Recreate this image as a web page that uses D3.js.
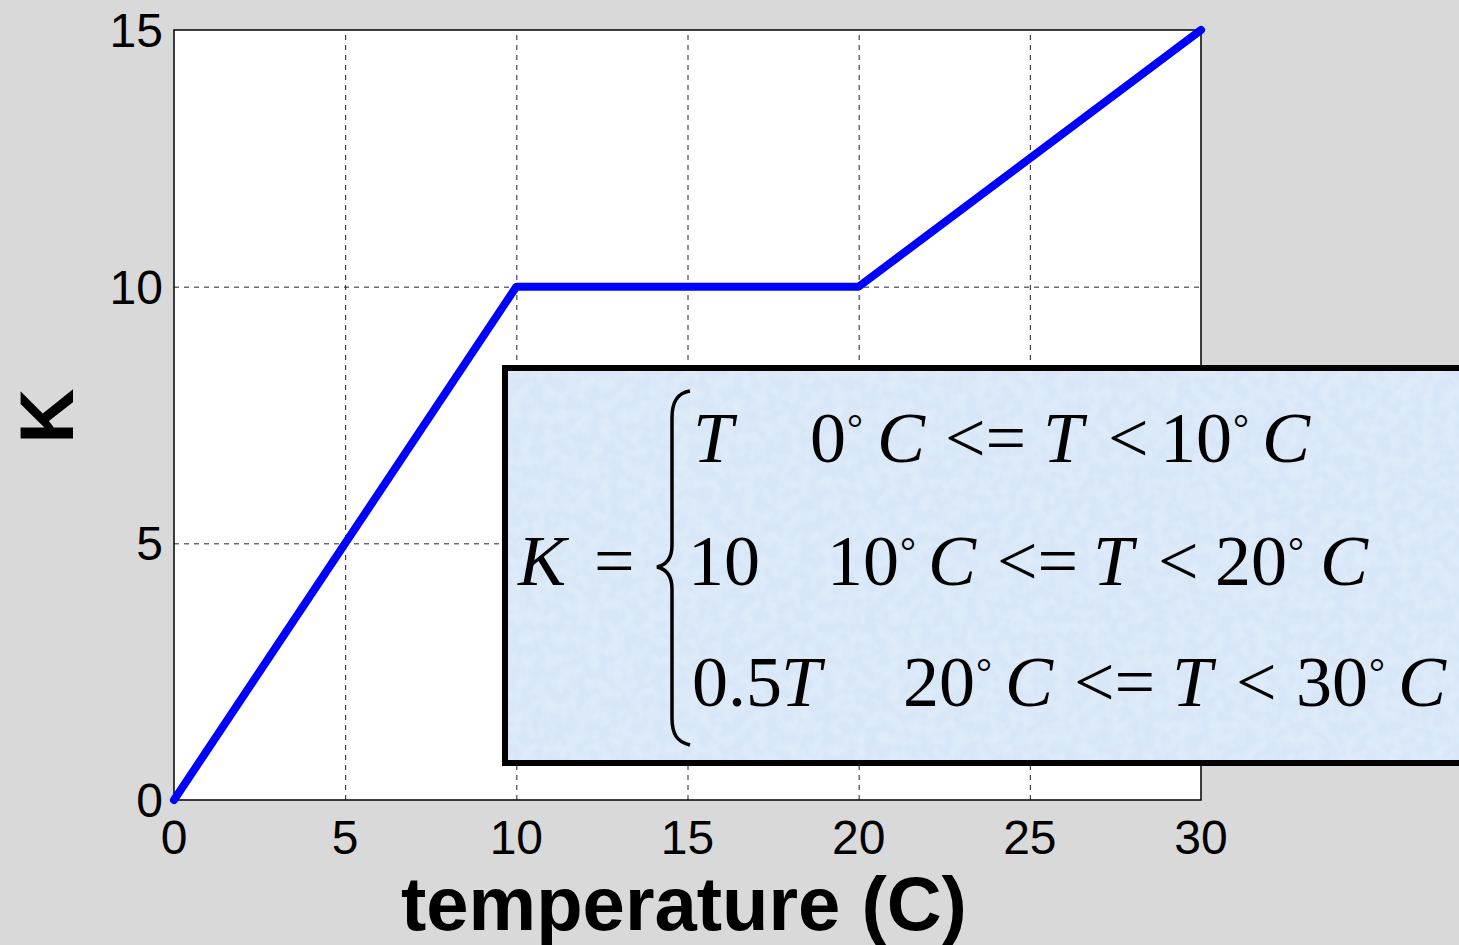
<!DOCTYPE html>
<html>
<head>
<meta charset="utf-8">
<script src="https://cdn.jsdelivr.net/npm/d3@7"></script>
<style>
  body { margin: 0; background: #d9d9d9; }
  svg { display: block; }
</style>
</head>
<body>
<div id="chart"></div>
<script>
// data
const temps = [0, 10, 20, 30];
const kVals = [0, 10, 10, 15];
const xTicks = [0, 5, 10, 15, 20, 25, 30];
const yTicks = [0, 5, 10, 15];

// formula rows: [text, x, italic]
const row1 = [["T", 693, 1], ["0", 810, 0], ["°", 847, 0], ["C", 877, 1], ["<=", 945, 0], ["T", 1043, 1], ["<", 1108, 0], ["10", 1160, 0], ["°", 1233, 0], ["C", 1262, 1]];
const row2 = [["10", 688, 0], ["10", 827, 0], ["°", 900, 0], ["C", 928, 1], ["<=", 997, 0], ["T", 1093, 1], ["<", 1158, 0], ["20", 1215, 0], ["°", 1288, 0], ["C", 1320, 1]];
const row3 = [["0.5", 692, 0], ["T", 781, 1], ["20", 903, 0], ["°", 976, 0], ["C", 1005, 1], ["<=", 1074, 0], ["T", 1172, 1], ["<", 1236, 0], ["30", 1296, 0], ["°", 1369, 0], ["C", 1398, 1]];

const width = 1459, height = 945;
const svg = d3.select("#chart").append("svg")
    .attr("width", width)
    .attr("height", height);

svg.append("rect").attr("width", width).attr("height", height).attr("fill", "#d9d9d9");

const x = d3.scaleLinear().domain([0, 30]).range([174, 1201]);
const y = d3.scaleLinear().domain([0, 15]).range([800, 30]);

// plot area
svg.append("rect")
    .attr("x", x(0)).attr("y", y(15))
    .attr("width", x(30) - x(0)).attr("height", y(0) - y(15))
    .attr("fill", "#fff");

// grid
const grid = svg.append("g").attr("stroke", "#222").attr("stroke-width", 1).attr("stroke-dasharray", "5,5");
grid.selectAll(".gx").data(xTicks.slice(1, -1)).enter().append("line")
    .attr("x1", d => x(d) + 0.5).attr("x2", d => x(d) + 0.5)
    .attr("y1", y(0)).attr("y2", y(15));
grid.selectAll(".gy").data(yTicks.slice(1, -1)).enter().append("line")
    .attr("y1", d => y(d) + 0.5).attr("y2", d => y(d) + 0.5)
    .attr("x1", x(0)).attr("x2", x(30));

// box
svg.append("rect")
    .attr("x", x(0)).attr("y", y(15))
    .attr("width", x(30) - x(0)).attr("height", y(0) - y(15))
    .attr("fill", "none").attr("stroke", "#000").attr("stroke-width", 1.5);

// tick labels
svg.selectAll(".xt").data(xTicks).enter().append("text")
    .attr("x", d => x(d)).attr("y", 854)
    .attr("text-anchor", "middle")
    .attr("font-family", "Liberation Sans, Arial, sans-serif")
    .attr("font-size", 48)
    .text(d => d);
svg.selectAll(".yt").data(yTicks).enter().append("text")
    .attr("x", 163).attr("y", d => y(d) + 17)
    .attr("text-anchor", "end")
    .attr("font-family", "Liberation Sans, Arial, sans-serif")
    .attr("font-size", 48)
    .text(d => d);

// axis labels
svg.append("text")
    .attr("x", 684).attr("y", 930)
    .attr("text-anchor", "middle")
    .attr("font-family", "Liberation Sans, Arial, sans-serif")
    .attr("font-weight", "bold")
    .attr("font-size", 76)
    .text("temperature (C)");
svg.append("text")
    .attr("transform", "translate(73,416) rotate(-90)")
    .attr("text-anchor", "middle")
    .attr("font-family", "Liberation Sans, Arial, sans-serif")
    .attr("font-weight", "bold")
    .attr("font-size", 76)
    .text("K");

// the line
const line = d3.line().x(d => x(d[0])).y(d => y(d[1]));
svg.append("path")
    .datum(d3.zip(temps, kVals))
    .attr("d", line)
    .attr("fill", "none")
    .attr("stroke", "#0000ff")
    .attr("stroke-width", 8)
    .attr("stroke-linejoin", "round")
    .attr("stroke-linecap", "round");

// textured light blue annotation box
const defs = svg.append("defs");
const f = defs.append("filter").attr("id", "tex").attr("x", 0).attr("y", 0).attr("width", 1).attr("height", 1);
f.append("feTurbulence").attr("type", "fractalNoise").attr("baseFrequency", 0.09).attr("numOctaves", 2).attr("seed", 3);
f.append("feColorMatrix").attr("type", "matrix")
    .attr("values", "0 0 0 0 0.80  0 0 0 0 0.87  0 0 0 0 0.96  0 0 1.2 0 -0.45");
f.append("feComposite").attr("in2", "SourceGraphic").attr("operator", "in");

const bx = 505, by = 368, bw = 1000, bh = 395;
svg.append("rect").attr("x", bx).attr("y", by).attr("width", bw).attr("height", bh).attr("fill", "#d8e7f7");
svg.append("rect").attr("x", bx).attr("y", by).attr("width", bw).attr("height", bh).attr("fill", "#fff").attr("filter", "url(#tex)");
svg.append("rect").attr("x", bx).attr("y", by).attr("width", bw).attr("height", bh)
    .attr("fill", "none").attr("stroke", "#000").attr("stroke-width", 6);

// formula
const serif = "Liberation Serif, Times New Roman, serif";
function drawRow(row, base) {
    svg.append("g").selectAll("text").data(row).enter().append("text")
        .attr("x", d => d[1])
        .attr("y", d => d[0] === "°" ? base - 20 : base)
        .attr("font-family", serif)
        .attr("font-size", d => d[0] === "°" ? 40 : 72)
        .attr("font-style", d => d[2] ? "italic" : "normal")
        .attr("fill", "#000")
        .text(d => d[0]);
}
drawRow(row1, 462);
drawRow(row2, 585);
drawRow(row3, 706);

svg.append("text").attr("x", 518).attr("y", 585)
    .attr("font-family", serif).attr("font-size", 72).attr("font-style", "italic").text("K");
svg.append("text").attr("x", 594).attr("y", 585)
    .attr("font-family", serif).attr("font-size", 72).text("=");

// curly brace
svg.append("path")
    .attr("d", "M690,391 C677,393 672,402 672,418 L672,545 C672,558 666,565 657,567 C666,569 672,576 672,589 L672,718 C672,734 677,742 690,745")
    .attr("fill", "none").attr("stroke", "#000").attr("stroke-width", 3.5);
</script>
</body>
</html>
